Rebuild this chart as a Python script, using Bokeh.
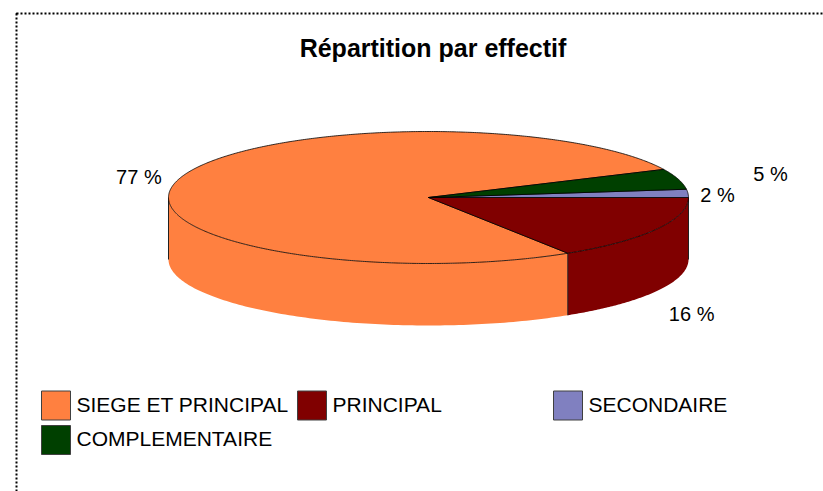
import numpy as np
from bokeh.plotting import figure
from bokeh.models import Range1d, BoxAnnotation
from bokeh.core.properties import value
from bokeh.embed import file_html
from bokeh.resources import INLINE

# ---- data ----
title_text = "Répartition par effectif"
categories = ["SIEGE ET PRINCIPAL", "PRINCIPAL", "SECONDAIRE", "COMPLEMENTAIRE"]
shares = [77, 16, 2, 5]
colors = ["#FF8040", "#800000", "#8080C0", "#004000"]

# ---- layout / style ----
W, H = 823, 491
cx, cy = 428.0, 197.0      # pie centre (pixel space of the figure)
a, b = 260.0, 66.0         # ellipse semi-axes of the top face
depth = 62.0               # thickness of the pie
start_deg = 25.2           # angle where the first slice starts (counter-clockwise)
label_fx = [1.16, 1.155, 1.114, 1.37]
label_fy = [1.11, 1.70, 0.72, 1.30]
FONT = value("Liberation Sans")

p = figure(width=W, height=H, x_range=Range1d(0, W), y_range=Range1d(H, 0),
           output_backend="svg", toolbar_location=None,
           x_axis_location=None, y_axis_location=None,
           min_border=0, min_border_left=0, min_border_right=0,
           min_border_top=0, min_border_bottom=0)
p.grid.visible = False
p.outline_line_color = None
p.background_fill_color = "white"

# dotted chart-area frame
p.add_layout(BoxAnnotation(left=16, right=5000, top=13, bottom=5000,
                           fill_alpha=0, line_color="black", line_alpha=1.0,
                           line_width=2, line_dash="2 2"))

total = float(sum(shares))
ends = start_deg + 360.0 * np.cumsum(shares) / total
starts = np.concatenate([[start_deg], ends[:-1]])


def top_pt(t_deg, dz=0.0):
    t = np.radians(t_deg)
    return cx + a * np.cos(t), cy - b * np.sin(t) + dz


# ---- side walls (front half: 180..360 deg) ----
side_xs, side_ys, side_c = [], [], []
edge_angles = set()
for s, e, c in zip(starts, ends, colors):
    for k in (0, 1):
        lo, hi = 180 + 360 * k, 360 + 360 * k
        t1, t2 = max(s, lo), min(e, hi)
        if t2 > t1:
            ts = np.linspace(t1, t2, 120)
            xt, yt = top_pt(ts)
            xb, yb = top_pt(ts[::-1], depth)
            side_xs.append(list(np.concatenate([xt, xb])))
            side_ys.append(list(np.concatenate([yt, yb])))
            side_c.append(c)
            edge_angles.update([t1, t2])
p.patches(side_xs, side_ys, fill_color=side_c, line_color=None)

ea = np.array(sorted(edge_angles))
ex0, ey0 = top_pt(ea)
ex1, ey1 = top_pt(ea, depth)
p.segment(ex0, ey0, ex1, ey1, line_color="#202020", line_width=1)

# ---- top faces ----
top_xs, top_ys = [], []
for s, e in zip(starts, ends):
    ts = np.linspace(s, e, max(int((e - s) * 2), 6))
    xt, yt = top_pt(ts)
    top_xs.append([cx] + list(xt))
    top_ys.append([cy] + list(yt))
p.patches(top_xs, top_ys, fill_color=colors, line_color="black", line_width=0.8)

# ---- data labels ----
mids = (starts + ends) / 2.0
lx, ly = [], []
for m, fx, fy in zip(mids, label_fx, label_fy):
    t = np.radians(m)
    x = cx + a * fx * np.cos(t)
    y = cy - b * fy * np.sin(t) + (depth if np.sin(t) < 0 else 0.0)
    lx.append(x)
    ly.append(y)
p.text(lx, ly, text=[f"{v} %" for v in shares], text_font=FONT,
       text_font_size="20px", text_color="black", text_align="center",
       text_baseline="middle")

# ---- title ----
p.text([432.5], [47], text=[title_text], text_font=FONT, text_font_size="25px",
       text_font_style="bold", text_color="black", text_align="center",
       text_baseline="middle")

# ---- legend ----
col_w, row_h = 256.0, 34.5
leg_x0, leg_y0 = 55.5, 405.0
idx = np.arange(len(categories))
sq_x = leg_x0 + (idx % 3) * col_w
sq_y = leg_y0 + (idx // 3) * row_h
p.rect(sq_x, sq_y, width=29, height=29, fill_color=colors,
       line_color="#404040", line_width=1)
p.text(sq_x + 20.5, sq_y - 1.5, text=categories, text_font=FONT,
       text_font_size="21px", text_color="black", text_align="left",
       text_baseline="middle")

open("out.html", "w").write(file_html(p, INLINE))
